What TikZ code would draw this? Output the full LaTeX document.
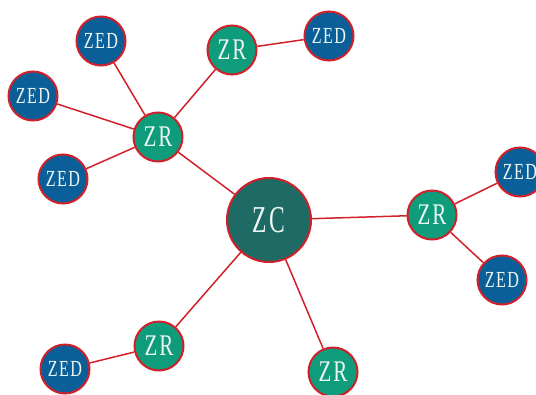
\documentclass[tikz,border=0pt]{standalone}
\usepackage{fontspec}
\newfontfamily\zcfont[FakeStretch=0.62,LetterSpace=6]{Liberation Serif}
\newfontfamily\zrfont[FakeStretch=0.7,LetterSpace=6]{Liberation Serif}
\definecolor{edgered}{HTML}{D0202A}
\definecolor{zcfill}{HTML}{1E6B66}
\definecolor{zrfill}{HTML}{0E9C7B}
\definecolor{zedfill}{HTML}{0B5F99}
\definecolor{txt}{HTML}{EEF6F2}
\tikzset{
  base/.style={circle, draw=edgered, line width=2pt, inner sep=0pt, text=txt},
  zc/.style={base, fill=zcfill, minimum size=84pt, font=\zcfont\fontsize{38}{38}\selectfont},
  zr/.style={base, fill=zrfill, minimum size=49pt, font=\zrfont\fontsize{30}{30}\selectfont},
  zed/.style={base, fill=zedfill, minimum size=49pt, font=\zrfont\fontsize{23}{23}\selectfont},
  link/.style={draw=edgered, line width=1.5pt}
}
\begin{document}
\begin{tikzpicture}[x=1pt,y=-1pt]
\useasboundingbox (0,0) rectangle (536,394);
\node[zc] (c) at (269,220) {ZC};
\node[zr] (r1) at (232,50) {ZR};
\node[zr] (r2) at (158,137) {ZR};
\node[zr] (r3) at (432,215) {ZR};
\node[zr] (r4) at (159,346) {ZR};
\node[zr] (r5) at (333,372) {ZR};
\node[zed] (e1) at (101,41) {ZED};
\node[zed] (e2) at (329,36) {ZED};
\node[zed] (e3) at (33,96) {ZED};
\node[zed] (e4) at (63,179) {ZED};
\node[zed] (e5) at (520,172) {ZED};
\node[zed] (e6) at (502,280) {ZED};
\node[zed] (e7) at (65,369) {ZED};
\draw[link] (c) -- (r2);
\draw[link] (c) -- (r3);
\draw[link] (c) -- (r4);
\draw[link] (c) -- (r5);
\draw[link] (r2) -- (r1);
\draw[link] (r2) -- (e1);
\draw[link] (r2) -- (e3);
\draw[link] (r2) -- (e4);
\draw[link] (r1) -- (e2);
\draw[link] (r3) -- (e5);
\draw[link] (r3) -- (e6);
\draw[link] (r4) -- (e7);
\end{tikzpicture}
\end{document}
